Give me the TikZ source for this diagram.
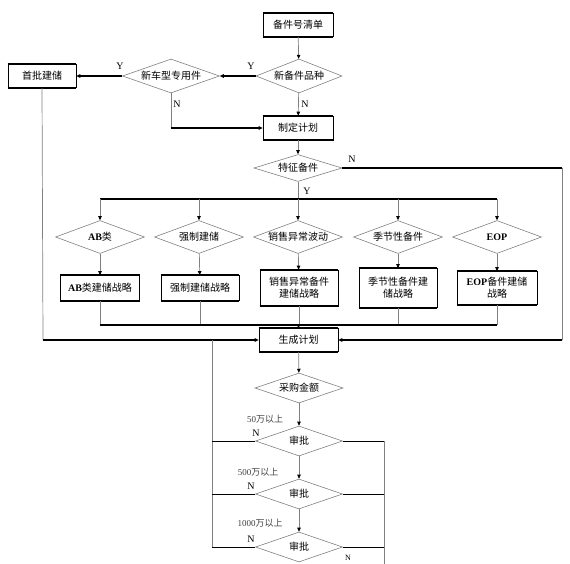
\documentclass[tikz,border=0pt]{standalone}
\usepackage{fontspec}
\setmainfont{Liberation Serif}
\newfontfamily\cjk{Noto Sans CJK SC}
\usetikzlibrary{shapes.geometric,arrows.meta}
\begin{document}
\begin{tikzpicture}[x=1pt,y=-1pt,
 font=\cjk\fontsize{10}{12}\selectfont,
 box/.style={draw=black, line width=0.6pt, minimum width=70pt, minimum height=23pt, inner sep=1pt, align=center},
 dia/.style={diamond, draw=gray, line width=0.6pt, minimum width=88pt, minimum height=30pt, inner sep=0pt, aspect=2.9},
 vline/.style={draw=gray, line width=0.7pt},
 hline/.style={draw=black, line width=1.2pt},
 tline/.style={draw=black, line width=0.8pt},
 bus/.style={draw=black, line width=2.2pt},
 arr/.style={-{Triangle[length=4pt,width=3.5pt,color=black]}},
 lab/.style={inner sep=1pt},
 amt/.style={inner sep=1pt, font=\cjk\fontsize{9}{11}\selectfont, text=black!75}
]
\useasboundingbox (0,0) rectangle (570,564);

% top part
\node[box] (b1) at (298,25) {备件号清单};
\node[dia, minimum width=86pt, minimum height=34pt] (d1) at (299,76) {新备件品种};
\node[dia, minimum width=97pt, minimum height=34pt] (d2) at (171,76) {新车型专用件};
\node[box, minimum width=68pt] (b0) at (42,76) {首批建储};
\node[box, minimum height=24pt] (b2) at (298,128) {制定计划};
\node[dia, minimum height=27pt] (d3) at (298,168) {特征备件};

% category diamonds
\node[dia, minimum width=89pt, minimum height=33pt] (t1) at (100,237) {{\rmfamily\bfseries AB}类};
\node[dia, minimum width=89pt, minimum height=33pt] (t2) at (199,237) {强制建储};
\node[dia, minimum width=89pt, minimum height=33pt] (t3) at (298,237) {销售异常波动};
\node[dia, minimum width=89pt, minimum height=33pt] (t4) at (398,237) {季节性备件};
\node[dia, minimum width=89pt, minimum height=33pt] (t5) at (497,237) {\rmfamily\bfseries EOP};

% strategy boxes
\node[box, minimum width=79pt, minimum height=25pt] (s1) at (100,288) {{\rmfamily\bfseries AB}类建储战略};
\node[box, minimum width=78pt, minimum height=25pt] (s2) at (200,288) {强制建储战略};
\node[box, minimum width=78pt, minimum height=36pt] (s3) at (299,288) {销售异常备件\\建储战略};
\node[box, minimum width=78pt, minimum height=39pt] (s4) at (398,288) {季节性备件建\\储战略};
\node[box, minimum width=80pt, minimum height=33pt] (s5) at (497,288) {{\rmfamily\bfseries EOP}备件建储\\战略};

% lower part
\node[box, minimum width=79pt] (b3) at (298.5,340) {生成计划};
\node[dia, minimum height=30pt] (d4) at (299,388) {采购金额};
\node[dia, minimum width=87pt] (d5) at (299,441) {审批};
\node[dia, minimum width=87pt] (d6) at (299,494) {审批};
\node[dia, minimum width=87pt] (d7) at (299,547) {审批};

% thick top/bottom borders of boxes
\foreach \n in {b0,b1,b2,b3,s1,s2,s3,s4,s5}{
  \draw[line width=2pt] (\n.north west) -- (\n.north east);
  \draw[line width=2pt] (\n.south west) -- (\n.south east);
}

% coordinates
\coordinate (k1) at (171,128);
\coordinate (cR) at (562,168);
\coordinate (cR2) at (562,340);
\coordinate (cL) at (43,340);
\coordinate (bt0) at (298,199);
\coordinate (bt1) at (100,199);
\coordinate (bt5) at (497,199);
\coordinate (bb1) at (100,325);
\coordinate (bb5) at (497,325);
\coordinate (g0) at (212,340);
\coordinate (g1) at (212,441);
\coordinate (g2) at (212,494);
\coordinate (g3) at (212,547);
\coordinate (r1) at (384,441);
\coordinate (r2) at (384,494);
\coordinate (r3) at (384,547);
\coordinate (rend) at (384,566);

% connectors
\draw[vline,arr] (b1) -- (d1);
\draw[hline,arr] (d1) -- (d2);
\draw[hline,arr] (d2) -- (b0);
\draw[vline,arr] (d1) -- (b2);
\draw[vline] (d2.south) -- (k1);
\draw[hline,arr] (k1) -- (b2.west);
\draw[vline,arr] (b2) -- (d3);
\draw[bus] (d3.east) -- (cR);
\draw[vline] (cR) -- (cR2);
\draw[bus,arr] (cR2) -- (b3.east);
\draw[vline] (d3.south) -- (bt0);
\draw[bus] (bt1) -- (bt5);
\foreach \t/\s in {t1/s1,t2/s2,t3/s3,t4/s4,t5/s5}{
  \draw[vline,arr] (\t.north |- bt1) -- (\t.north);
  \draw[vline,arr] (\t) -- (\s);
  \draw[vline] (\s.south) -- (\s.south |- bb1);
}
\draw[bus] (bb1) -- (bb5);
\draw[vline,arr] (b3.north |- bb1) -- (b3.north);
\draw[vline] (b0.south) -- (cL);
\draw[bus,arr] (cL) -- (b3.west);
\draw[vline,arr] (b3) -- (d4);
\draw[vline,arr] (d4) -- (d5);
\draw[vline,arr] (d5) -- (d6);
\draw[vline,arr] (d6) -- (d7);
\draw[vline] (g0) -- (g3);
\draw[tline] (d5.west) -- (g1);
\draw[tline] (d6.west) -- (g2);
\draw[tline] (d7.west) -- (g3);
\draw[tline] (d5.east) -- (r1);
\draw[tline] (d6.east) -- (r2);
\draw[tline] (d7.east) -- (r3);
\draw[vline] (r1) -- (rend);

% labels
\node[lab] (y1) at (120,66) {\rmfamily Y};
\node[lab] (y2) at (251,66) {\rmfamily Y};
\node[lab] (n1) at (177,104) {\rmfamily N};
\node[lab] (n2) at (305,104) {\rmfamily N};
\node[lab] (n3) at (352,159) {\rmfamily N};
\node[lab] (y3) at (307,191) {\rmfamily Y};
\node[amt] (a1) at (265,419) {{\rmfamily 50}万以上};
\node[lab] (n4) at (256,433) {\rmfamily N};
\node[amt] (a2) at (258,472) {{\rmfamily 500}万以上};
\node[lab] (n5) at (251,486) {\rmfamily N};
\node[amt] (a3) at (260,523) {{\rmfamily 1000}万以上};
\node[lab] (n6) at (251,539) {\rmfamily N};
\node[lab, font=\rmfamily\fontsize{8}{9}\selectfont] (n7) at (348,558) {N};
\end{tikzpicture}
\end{document}
